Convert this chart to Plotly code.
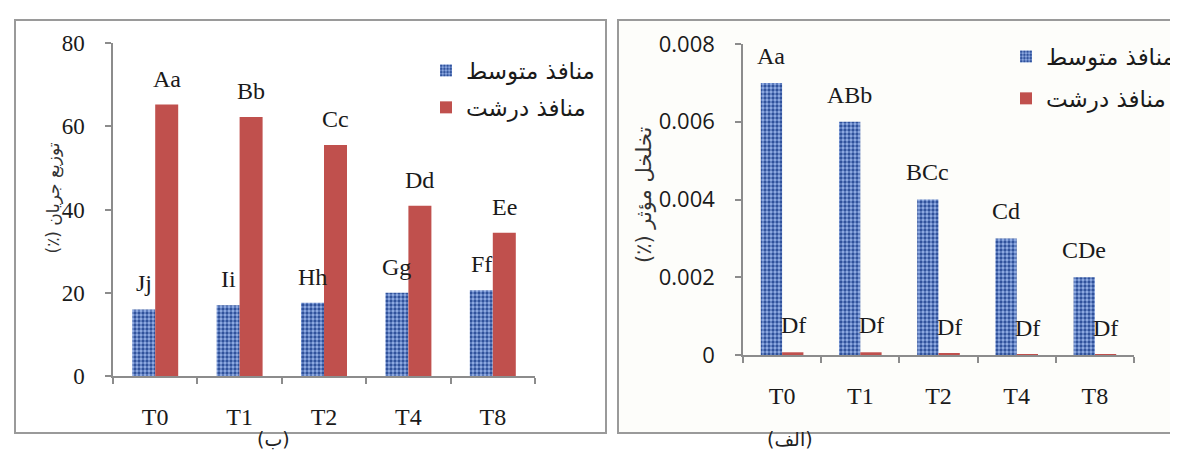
import plotly.graph_objects as go

W, H = 1178, 455

categories = ["T0", "T1", "T2", "T4", "T8"]

# Left panel (ب): flow distribution (%)
flow_medium = [16.0, 17.0, 17.6, 20.0, 20.6]
flow_macro = [65.2, 62.2, 55.5, 40.9, 34.4]
flow_medium_labels = ["Jj", "Ii", "Hh", "Gg", "Ff"]
flow_macro_labels = ["Aa", "Bb", "Cc", "Dd", "Ee"]

# Right panel (الف): effective porosity (%)
por_medium = [0.0070, 0.0060, 0.0040, 0.0030, 0.0020]
por_macro = [0.00007, 0.00007, 0.00003, 0.000005, 0.000005]
por_medium_labels = ["Aa", "ABb", "BCc", "Cd", "CDe"]
por_macro_labels = ["Df", "Df", "Df", "Df", "Df"]

legend_medium = "منافذ متوسط"
legend_macro = "منافذ درشت"
ytitle_left = "(٪) توزیع جریان"
ytitle_right = "(٪) تخلخل مؤثر"
caption_left = "(ب)"
caption_right = "(الف)"

BLUE = "#94b0e6"
BLUE_DARK = "#30529c"
RED = "#c0504d"
AX = "#8c8c8c"
SERIF = "Liberation Serif, DejaVu Serif, DejaVu Sans"
SANS = "Open Sans, DejaVu Sans"
ARABIC = "DejaVu Sans"

def px(x):
    return x / W

def py(y):
    return 1 - y / H

blue_pattern = dict(shape=".", fgcolor=BLUE_DARK, bgcolor=BLUE, size=4, solidity=0.55)

fig = go.Figure()

fig.add_trace(go.Bar(x=categories, y=flow_medium, name=legend_medium, xaxis="x", yaxis="y",
                     marker=dict(color=BLUE, pattern=blue_pattern, line=dict(width=0)),
                     legend="legend", legendgroup="a"))
fig.add_trace(go.Bar(x=categories, y=flow_macro, name=legend_macro, xaxis="x", yaxis="y",
                     marker=dict(color=RED, line=dict(width=0)),
                     legend="legend", legendgroup="b"))
fig.add_trace(go.Bar(x=categories, y=por_medium, name=legend_medium, xaxis="x2", yaxis="y2",
                     marker=dict(color=BLUE, pattern=blue_pattern, line=dict(width=0)),
                     legend="legend2", legendgroup="c"))
fig.add_trace(go.Bar(x=categories, y=por_macro, name=legend_macro, xaxis="x2", yaxis="y2",
                     marker=dict(color=RED, line=dict(width=0)),
                     legend="legend2", legendgroup="d"))

LBL = dict(family=SERIF, size=24, color="#1a1a1a")
annotations = []
for i, c in enumerate(categories):
    annotations.append(dict(x=c, y=flow_medium[i], xref="x", yref="y", text=flow_medium_labels[i],
                            showarrow=False, xshift=-11.5, yshift=11, yanchor="bottom", font=LBL))
    annotations.append(dict(x=c, y=flow_macro[i], xref="x", yref="y", text=flow_macro_labels[i],
                            showarrow=False, xshift=11.5, yshift=11, yanchor="bottom", font=LBL))
    annotations.append(dict(x=c, y=por_medium[i], xref="x2", yref="y2", text=por_medium_labels[i],
                            showarrow=False, xshift=-11, yshift=12, yanchor="bottom", font=LBL))
    annotations.append(dict(x=c, y=por_macro[i], xref="x2", yref="y2", text=por_macro_labels[i],
                            showarrow=False, xshift=11, yshift=12, yanchor="bottom", font=LBL))

annotations += [
    dict(x=px(32), y=py(190), xref="paper", yref="paper", text=ytitle_left, textangle=-90,
         showarrow=False, font=dict(family=ARABIC, size=17, color="#333333")),
    dict(x=px(636), y=py(187), xref="paper", yref="paper", text=ytitle_right, textangle=-90,
         showarrow=False, font=dict(family=ARABIC, size=21, color="#333333")),
    dict(x=px(247), y=py(444), xref="paper", yref="paper", text=caption_left,
         showarrow=False, font=dict(family=ARABIC, size=19, color="#222222")),
    dict(x=px(782), y=py(444), xref="paper", yref="paper", text=caption_right,
         showarrow=False, font=dict(family=ARABIC, size=19, color="#222222")),
]

shapes = [
    dict(type="rect", xref="paper", yref="paper", x0=px(7), x1=px(598), y0=py(425), y1=py(12),
         line=dict(color="#9a9a9a", width=2), fillcolor="white", layer="below"),
    dict(type="rect", xref="paper", yref="paper", x0=px(610), x1=px(1180), y0=py(425), y1=py(12),
         line=dict(color="#9a9a9a", width=2), fillcolor="#fdfdfa", layer="below"),
]

xaxis_common = dict(type="category", showline=True, linecolor=AX, linewidth=1.5,
                    ticks="outside", tickson="boundaries", ticklen=6, tickcolor=AX, tickwidth=1.5,
                    showgrid=False, zeroline=False, range=[-0.5, 4.5], automargin=False,
                    ticklabelstandoff=18,
                    tickfont=dict(family=SERIF, size=24, color="#1a1a1a"))

yaxis_common = dict(showline=True, linecolor=AX, linewidth=1.5, ticks="outside", ticklen=6,
                    tickcolor=AX, tickwidth=1.5, showgrid=False, zeroline=False,
                    automargin=False, ticklabelstandoff=16)

fig.update_layout(
    template="none",
    width=W, height=H,
    margin=dict(l=0, r=0, t=0, b=0, autoexpand=False),
    paper_bgcolor="white", plot_bgcolor="rgba(0,0,0,0)",
    barmode="group", bargap=0.455,
    showlegend=True,
    xaxis=dict(domain=[px(105), px(527)], anchor="y", **xaxis_common),
    yaxis=dict(domain=[py(368), py(35)], anchor="x", range=[0, 80], dtick=20,
               tickfont=dict(family=SERIF, size=23, color="#1a1a1a"), **yaxis_common),
    xaxis2=dict(domain=[px(735), px(1126)], anchor="y2", **xaxis_common),
    yaxis2=dict(domain=[py(347), py(36)], anchor="x2", range=[0, 0.008], dtick=0.002,
                tickfont=dict(family=SANS, size=22, color="#1a1a1a"), **yaxis_common),
    legend=dict(x=px(418), y=py(41), xanchor="left", yanchor="top", xref="container", yref="container",
                bgcolor="rgba(0,0,0,0)", traceorder="grouped", tracegroupgap=4,
                font=dict(family=ARABIC, size=23, color="#1a1a1a"), itemwidth=30),
    legend2=dict(x=px(998), y=py(27), xanchor="left", yanchor="top", xref="container", yref="container",
                 bgcolor="rgba(0,0,0,0)", traceorder="grouped", tracegroupgap=9,
                 font=dict(family=ARABIC, size=23, color="#1a1a1a"), itemwidth=30),
    annotations=annotations,
    shapes=shapes,
)

fig.write_html("out.html")
